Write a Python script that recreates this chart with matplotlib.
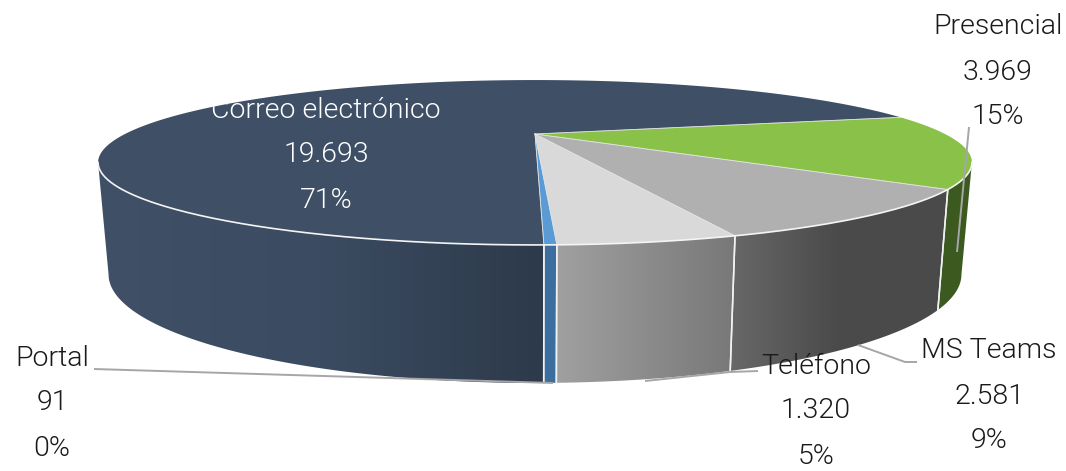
#!/usr/bin/env python
import numpy as np
import matplotlib
matplotlib.use("Agg")
import matplotlib.pyplot as plt
from matplotlib.patches import Polygon
from matplotlib.colors import LinearSegmentedColormap

# datos del grafico
categories = ["Teléfono", "MS Teams", "Presencial", "Correo electrónico", "Portal"]
values = [1320, 2581, 3969, 19693, 91]
value_labels = ["1.320", "2.581", "3.969", "19.693", "91"]
percent_labels = ["5%", "9%", "15%", "71%", "0%"]

top_colors = ["#d9d9d9", "#b0b0b0", "#8ac249", "#3e4f66", "#5b9bd5"]
wall_colors = [("#a0a0a0", "#787878"), ("#686868", "#4a4a4a", "#4a4a4a"), ("#3c5a20", "#3c5a20"),
               ("#3f5067", "#3b4b61", "#2d3a4b"), ("#3c6e9f", "#3c6e9f")]

# parametros de la perspectiva (en pixeles de la imagen)
CX, CY = 535, 134
A, B, K = 410, 72.6, 0.3456
START = 2.0
EDGE = np.degrees(np.arccos(K))


def top_xy(theta):
    t = np.radians(theta)
    w = 1 - K * np.cos(t)
    return CX + A * np.sin(t) / w, CY + B * np.cos(t) / w


def bottom_xy(theta):
    x, y = top_xy(theta)
    return CX + 0.976 * (x - CX), 1.316 * y + 60.6


def arc(f, a, b):
    n = max(2, int(abs(b - a) * 2))
    x, y = f(np.linspace(a, b, n))
    return np.column_stack([x, y])


fig = plt.figure(figsize=(10.66, 4.71), dpi=100)
ax = fig.add_axes([0, 0, 1, 1])
ax.set_xlim(0, 1066)
ax.set_ylim(471, 0)
ax.axis("off")

angles = np.array(values) / sum(values) * 360
starts = START + np.concatenate([[0], np.cumsum(angles)[:-1]])
ends = starts + angles

# paredes laterales, con degradado horizontal
for i in range(len(values)):
    a, b = starts[i], ends[i]
    if b > 360 - EDGE:
        a, b = max(a, 360 - EDGE) - 360, b - 360
    else:
        b = min(b, EDGE)
    if a >= b:
        continue
    pts = np.vstack([arc(top_xy, a, b), arc(bottom_xy, b, a)])
    poly = Polygon(pts, closed=True, facecolor="none", edgecolor="none", zorder=2)
    ax.add_patch(poly)
    cmap = LinearSegmentedColormap.from_list("w", wall_colors[i])
    x0, x1 = pts[:, 0].min(), pts[:, 0].max()
    y0, y1 = pts[:, 1].min(), pts[:, 1].max()
    im = ax.imshow(np.linspace(0, 1, 128)[None, :], cmap=cmap, aspect="auto",
                   extent=(x0, x1, y1, y0), zorder=2, interpolation="bilinear")
    im.set_clip_path(poly)
    # aristas verticales blancas
    for th in (a, b):
        if -EDGE < th < EDGE:
            xt, yt = top_xy(th)
            xb, yb = bottom_xy(th)
            ax.plot([xt, xb], [yt, yb], color="#f2f2f2", lw=1.1, zorder=3)

ax.set_xlim(0, 1066)
ax.set_ylim(471, 0)

# cara superior
for i in range(len(values)):
    pts = np.vstack([[CX, CY], arc(top_xy, starts[i], ends[i])])
    ax.add_patch(Polygon(pts, closed=True, facecolor=top_colors[i], edgecolor="none", zorder=4))
    for th in (starts[i], ends[i]):
        xt, yt = top_xy(th)
        ax.plot([CX, xt], [CY, yt], color="#e4e4e4", lw=0.6, alpha=0.7, zorder=5)

rim = arc(top_xy, -EDGE, EDGE)
ax.plot(rim[:, 0], rim[:, 1], color="#f4f4f4", lw=1.2, zorder=6)

# lineas guia
leaders = [([645, 730, 758], [381, 372, 371]),
           ([858, 905, 917], [345, 362, 362]),
           ([969, 957], [127, 252]),
           ([94, 553], [369, 383])]
for lx, ly in leaders:
    ax.plot(lx, ly, color="#a6a6a6", lw=1.4, zorder=7, solid_capstyle="butt")

# etiquetas
label_pos = [(816, 366), (989, 351), (998, 27), (326, 110), (52, 358)]
font = dict(family="Roboto", weight=300, fontsize=20.5, ha="center", va="center", zorder=8)
for i, (lx, ly) in enumerate(label_pos):
    color = "white" if i == 3 else "#1a1a1a"
    lines = [categories[i], value_labels[i], percent_labels[i]]
    for j, s in enumerate(lines):
        ax.text(lx, ly + j * 45, s, color=color, **font)

fig.savefig("out.png", dpi=100)
